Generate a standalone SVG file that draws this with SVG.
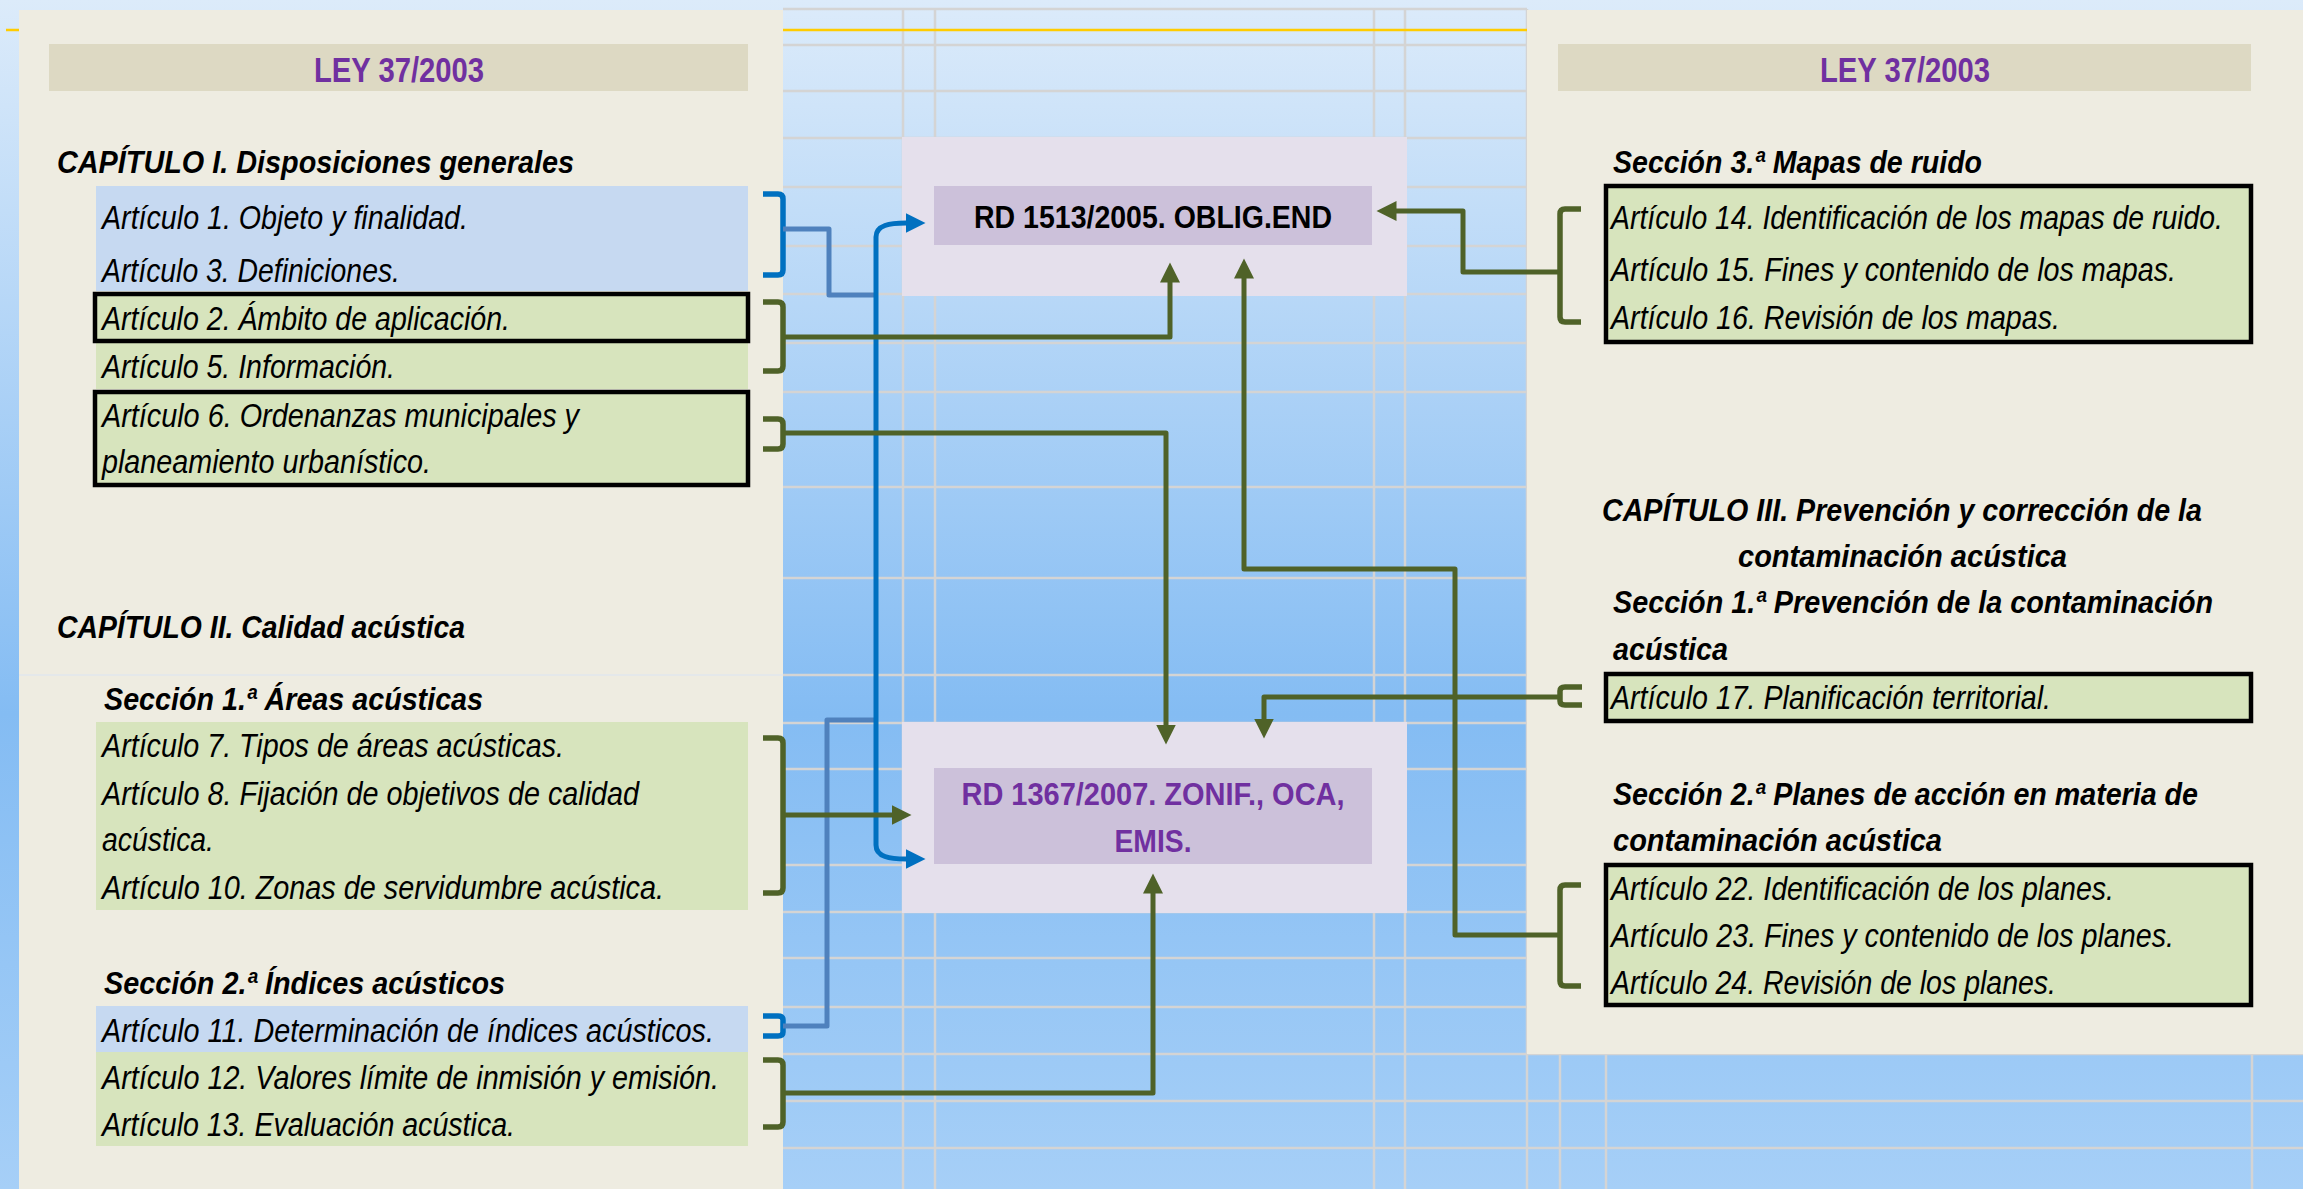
<svg xmlns="http://www.w3.org/2000/svg" width="2303" height="1189" viewBox="0 0 2303 1189">
<style>
.t{font-family:"Liberation Sans Narrow","Liberation Sans",Arial,sans-serif}
.art{font-size:33px;font-style:italic;fill:#000}
.hd{font-size:32px;font-weight:bold;font-style:italic;fill:#000}
.ley{font-size:35px;font-weight:bold;fill:#7030a0}
.rd{font-size:32px;font-weight:bold}
.panel{fill:#eeece1}
.hdrbox{fill:#ddd9c3}
.blueband{fill:#c6d9f1}
.greenband{fill:#d7e4bd}
.boxed{fill:#d7e4bd;stroke:#000;stroke-width:4.5}
.outer{fill:#e5e0ec}
.inner{fill:#ccc1da}
.grid{stroke:#d4d4d4;stroke-width:2.5;fill:none}
.cg{fill:none;stroke:#4f6228;stroke-width:5;stroke-linejoin:round}
.cb{fill:none;stroke:#0070c0;stroke-width:5;stroke-linejoin:round}
.csb{fill:none;stroke:#4f81bd;stroke-width:5;stroke-linejoin:round}
.brg{fill:none;stroke:#4f6228;stroke-width:5.5;stroke-linejoin:round}
.brb{fill:none;stroke:#0070c0;stroke-width:5.5;stroke-linejoin:round}
</style>
<defs>
<linearGradient id="bg" x1="0" y1="0" x2="0" y2="1">
<stop offset="0" stop-color="#dcebfa"/>
<stop offset="0.6" stop-color="#84bcf3"/>
<stop offset="1" stop-color="#a6cff7"/>
</linearGradient>
<marker id="ag" markerUnits="userSpaceOnUse" markerWidth="22" markerHeight="22" viewBox="0 0 22 22" refX="0.5" refY="10" orient="auto"><path d="M0,0 L20,10 L0,20 Z" fill="#4f6228"/></marker>
<marker id="ab" markerUnits="userSpaceOnUse" markerWidth="22" markerHeight="22" viewBox="0 0 22 22" refX="0.5" refY="10" orient="auto-start-reverse"><path d="M0,0 L20,10 L0,20 Z" fill="#0070c0"/></marker>
</defs>

<g id="background">
<rect x="0" y="0" width="2303" height="1189" fill="url(#bg)"/>
<g class="grid">
<path d="M783,9 H1527 M783,45 H1527 M783,91 H1527 M783,138 H1527 M783,187 H1527 M783,246 H1527 M783,294 H1527 M783,343 H1527 M783,392 H1527 M783,487 H1527 M783,578 H1527 M783,675 H1527 M783,723 H1527 M783,769 H1527 M783,865 H1527 M783,912 H1527 M783,958 H1527 M783,1007 H1527 M783,1054 H2303 M783,1101 H2303 M783,1148 H2303"/>
<path d="M903,9 V1189 M935,9 V1189 M1374,9 V1189 M1405,9 V1189 M1527,9 V1189 M1560,1054 V1189 M1606,1054 V1189 M2252,1054 V1189"/>
</g>
<line x1="6" y1="30" x2="1527" y2="30" stroke="#ffcc00" stroke-width="2.5"/>
</g>

<g id="left-panel">
<rect class="panel" x="19" y="10" width="764" height="1179"/>
<line x1="19" y1="675" x2="783" y2="675" stroke="#e4e8ea" stroke-width="2"/>
<rect class="hdrbox" x="49" y="44" width="699" height="47"/>
<text class="t ley" x="399" y="82" text-anchor="middle" textLength="170" lengthAdjust="spacingAndGlyphs">LEY 37/2003</text>
<text class="t hd" x="57" y="173" textLength="517" lengthAdjust="spacingAndGlyphs">CAPÍTULO I. Disposiciones generales</text>
<text class="t hd" x="57" y="638" textLength="408" lengthAdjust="spacingAndGlyphs">CAPÍTULO II. Calidad acústica</text>
<text class="t hd" x="104" y="710" textLength="379" lengthAdjust="spacingAndGlyphs">Sección 1.ª Áreas acústicas</text>
<text class="t hd" x="104" y="994" textLength="401" lengthAdjust="spacingAndGlyphs">Sección 2.ª Índices acústicos</text>
</g>

<g id="art1-3">
<rect class="blueband" x="96" y="186" width="652" height="105"/>
<text class="t art" x="102" y="229" textLength="366" lengthAdjust="spacingAndGlyphs">Artículo 1. Objeto y finalidad.</text>
<text class="t art" x="102" y="282" textLength="298" lengthAdjust="spacingAndGlyphs">Artículo 3. Definiciones.</text>
</g>
<g id="art5">
<rect class="greenband" x="96" y="343" width="652" height="46"/>
<text class="t art" x="102" y="378" textLength="293" lengthAdjust="spacingAndGlyphs">Artículo 5. Información.</text>
</g>
<g id="art2">
<rect class="boxed" x="95" y="294" width="653" height="47"/>
<text class="t art" x="102" y="330" textLength="408" lengthAdjust="spacingAndGlyphs">Artículo 2. Ámbito de aplicación.</text>
</g>
<g id="art6">
<rect class="boxed" x="95" y="392" width="653" height="93"/>
<text class="t art" x="102" y="427" textLength="477" lengthAdjust="spacingAndGlyphs">Artículo 6. Ordenanzas municipales y</text>
<text class="t art" x="102" y="473" textLength="329" lengthAdjust="spacingAndGlyphs">planeamiento urbanístico.</text>
</g>
<g id="art7-10">
<rect class="greenband" x="96" y="722" width="652" height="188"/>
<text class="t art" x="102" y="757" textLength="462" lengthAdjust="spacingAndGlyphs">Artículo 7. Tipos de áreas acústicas.</text>
<text class="t art" x="102" y="805" textLength="537" lengthAdjust="spacingAndGlyphs">Artículo 8. Fijación de objetivos de calidad</text>
<text class="t art" x="102" y="851" textLength="112" lengthAdjust="spacingAndGlyphs">acústica.</text>
<text class="t art" x="102" y="899" textLength="562" lengthAdjust="spacingAndGlyphs">Artículo 10. Zonas de servidumbre acústica.</text>
</g>
<g id="art11">
<rect class="blueband" x="96" y="1006" width="652" height="46"/>
<text class="t art" x="102" y="1042" textLength="612" lengthAdjust="spacingAndGlyphs">Artículo 11. Determinación de índices acústicos.</text>
</g>
<g id="art12-13">
<rect class="greenband" x="96" y="1052" width="652" height="94"/>
<text class="t art" x="102" y="1089" textLength="617" lengthAdjust="spacingAndGlyphs">Artículo 12. Valores límite de inmisión y emisión.</text>
<text class="t art" x="102" y="1136" textLength="413" lengthAdjust="spacingAndGlyphs">Artículo 13. Evaluación acústica.</text>
</g>

<g id="right-panel">
<rect class="panel" x="1527" y="10" width="776" height="1044"/>
<rect class="hdrbox" x="1558" y="44" width="693" height="47"/>
<text class="t ley" x="1905" y="82" text-anchor="middle" textLength="170" lengthAdjust="spacingAndGlyphs">LEY 37/2003</text>
<text class="t hd" x="1613" y="173" textLength="369" lengthAdjust="spacingAndGlyphs">Sección 3.ª Mapas de ruido</text>
<text class="t hd" x="1602" y="521" textLength="600" lengthAdjust="spacingAndGlyphs">CAPÍTULO III. Prevención y corrección de la</text>
<text class="t hd" x="1738" y="567" textLength="329" lengthAdjust="spacingAndGlyphs">contaminación acústica</text>
<text class="t hd" x="1613" y="613" textLength="600" lengthAdjust="spacingAndGlyphs">Sección 1.ª Prevención de la contaminación</text>
<text class="t hd" x="1613" y="660" textLength="115" lengthAdjust="spacingAndGlyphs">acústica</text>
<text class="t hd" x="1613" y="805" textLength="585" lengthAdjust="spacingAndGlyphs">Sección 2.ª Planes de acción en materia de</text>
<text class="t hd" x="1613" y="851" textLength="329" lengthAdjust="spacingAndGlyphs">contaminación acústica</text>
</g>
<g id="art14-16">
<rect class="boxed" x="1606" y="186" width="645" height="156"/>
<text class="t art" x="1611" y="229" textLength="612" lengthAdjust="spacingAndGlyphs">Artículo 14. Identificación de los mapas de ruido.</text>
<text class="t art" x="1611" y="281" textLength="565" lengthAdjust="spacingAndGlyphs">Artículo 15. Fines y contenido de los mapas.</text>
<text class="t art" x="1611" y="329" textLength="449" lengthAdjust="spacingAndGlyphs">Artículo 16. Revisión de los mapas.</text>
</g>
<g id="art17">
<rect class="boxed" x="1606" y="674" width="645" height="47"/>
<text class="t art" x="1611" y="709" textLength="440" lengthAdjust="spacingAndGlyphs">Artículo 17. Planificación territorial.</text>
</g>
<g id="art22-24">
<rect class="boxed" x="1606" y="865" width="645" height="140"/>
<text class="t art" x="1611" y="900" textLength="503" lengthAdjust="spacingAndGlyphs">Artículo 22. Identificación de los planes.</text>
<text class="t art" x="1611" y="947" textLength="563" lengthAdjust="spacingAndGlyphs">Artículo 23. Fines y contenido de los planes.</text>
<text class="t art" x="1611" y="994" textLength="445" lengthAdjust="spacingAndGlyphs">Artículo 24. Revisión de los planes.</text>
</g>

<g id="rd1513">
<rect class="outer" x="902" y="137" width="505" height="159"/>
<rect class="inner" x="934" y="186" width="438" height="59"/>
<text class="t rd" x="1153" y="228" text-anchor="middle" fill="#000" textLength="358" lengthAdjust="spacingAndGlyphs">RD 1513/2005. OBLIG.END</text>
</g>
<g id="rd1367">
<rect class="outer" x="902" y="722" width="505" height="191"/>
<rect class="inner" x="934" y="768" width="438" height="96"/>
<text class="t rd" x="1153" y="805" text-anchor="middle" fill="#7030a0" textLength="383" lengthAdjust="spacingAndGlyphs">RD 1367/2007. ZONIF., OCA,</text>
<text class="t rd" x="1153" y="852" text-anchor="middle" fill="#7030a0" textLength="77" lengthAdjust="spacingAndGlyphs">EMIS.</text>
</g>

<g id="connectors">
<path class="brb" d="M763,194 H778 Q783,194 783,199 V270 Q783,275 778,275 H763"/>
<path class="brg" d="M763,302 H778 Q783,302 783,307 V366 Q783,371 778,371 H763"/>
<path class="brg" d="M763,419 H778 Q783,419 783,424 V444 Q783,449 778,449 H763"/>
<path class="brg" d="M763,738 H778 Q783,738 783,743 V888 Q783,893 778,893 H763"/>
<path class="brb" d="M763,1016 H778 Q783,1016 783,1020 V1032 Q783,1036 778,1036 H763"/>
<path class="brg" d="M763,1060 H778 Q783,1060 783,1065 V1122 Q783,1127 778,1127 H763"/>
<path class="brg" d="M1581,209 H1565 Q1560,209 1560,214 V317 Q1560,322 1565,322 H1581"/>
<path class="brg" d="M1582,687 H1565 Q1560,687 1560,691 V701 Q1560,705 1565,705 H1582"/>
<path class="brg" d="M1581,885 H1565 Q1560,885 1560,890 V981 Q1560,986 1565,986 H1581"/>

<path class="csb" d="M783,229 H829 V295 H876"/>
<path class="csb" d="M783,1026 H827 V720 H876"/>
<path class="cb" d="M906,223 C890,223 876,225 876,237 V845 C876,857 890,859 906,859" marker-start="url(#ab)" marker-end="url(#ab)"/>

<path class="cg" d="M783,337 H1170 V282" marker-end="url(#ag)"/>
<path class="cg" d="M783,433 H1166 V725" marker-end="url(#ag)"/>
<path class="cg" d="M783,815 H892" marker-end="url(#ag)"/>
<path class="cg" d="M783,1093 H1153 V893" marker-end="url(#ag)"/>
<path class="cg" d="M1560,272 H1463 V211 H1396" marker-end="url(#ag)"/>
<path class="cg" d="M1560,697 H1264 V719" marker-end="url(#ag)"/>
<path class="cg" d="M1560,935 H1455 V569 H1244 V278" marker-end="url(#ag)"/>
</g>
</svg>
